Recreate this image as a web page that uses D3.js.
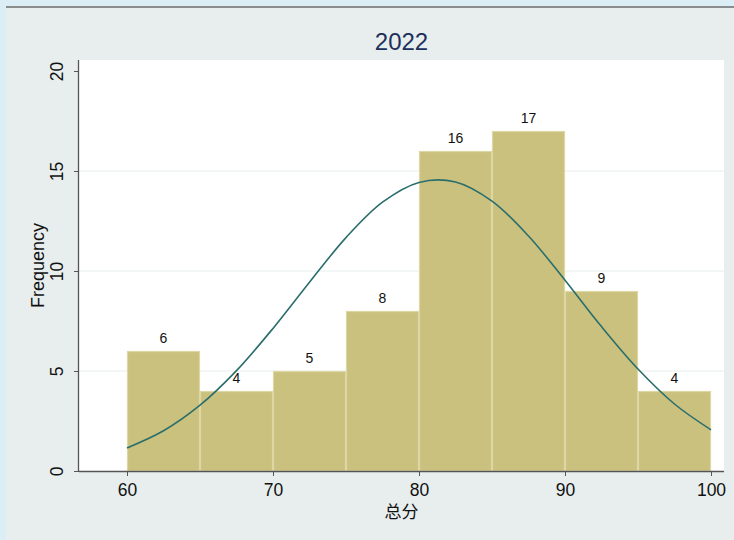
<!DOCTYPE html>
<html><head><meta charset="utf-8">
<script src="https://cdn.jsdelivr.net/npm/d3@7"></script>
<style>html,body{margin:0;padding:0;background:#dbeef6;}svg{display:block;}</style>
</head><body>
<svg id="c" width="734" height="540"></svg>
<script>
const binStarts = [60, 65, 70, 75, 80, 85, 90, 95];
const binWidth = 5;
const counts = [6, 4, 5, 8, 16, 17, 9, 4];
const curveX = [60, 62.5, 65, 67.5, 70, 72.5, 75, 77.5, 80, 82.5, 85, 87.5, 90, 92.5, 95, 97.5, 100];
const curveY = [1.15, 2.01, 3.29, 5.02, 7.13, 9.44, 11.67, 13.44, 14.43, 14.45, 13.49, 11.75, 9.54, 7.22, 5.10, 3.35, 2.06];
const xTicks = [60, 70, 80, 90, 100];
const yTicks = [0, 5, 10, 15, 20];
const gridTicks = [5, 10, 15];
const title = "2022";
const xTitle = "总分";
const yTitle = "Frequency";

const svg = d3.select("#c");
const font = "'Liberation Sans', Arial, Helvetica, sans-serif";

// backgrounds
svg.append("rect").attr("x",0).attr("y",0).attr("width",734).attr("height",540).attr("fill","#dbeef6");
svg.append("rect").attr("x",6).attr("y",6).attr("width",728).attr("height",534).attr("fill","#e8eeee");
svg.append("rect").attr("x",6).attr("y",6).attr("width",728).attr("height",2).attr("fill","#8a8c8e");

const plot = {left:79, right:724, top:60, bottom:471};
svg.append("rect").attr("x",plot.left).attr("y",plot.top)
  .attr("width",plot.right-plot.left).attr("height",plot.bottom-plot.top).attr("fill","#ffffff");

const x = d3.scaleLinear().domain([60,100]).range([127,711]);
const y = d3.scaleLinear().domain([0,20]).range([471,71]);

// grid
svg.append("g").selectAll("line").data(gridTicks).join("line")
  .attr("x1",plot.left).attr("x2",plot.right)
  .attr("y1",d=>y(d)).attr("y2",d=>y(d))
  .attr("stroke","#e6eeee").attr("stroke-width",1);

// bars
svg.append("g").selectAll("rect").data(counts).join("rect")
  .attr("x",(d,i)=>x(binStarts[i])+0.5)
  .attr("y",d=>y(d)+0.5)
  .attr("width",(d,i)=>x(binStarts[i]+binWidth)-x(binStarts[i])-1)
  .attr("height",d=>y(0)-y(d)-0.5)
  .attr("fill","#cbc17e").attr("stroke","#ddd7a6").attr("stroke-width",1.2);

// bar labels
svg.append("g").selectAll("text").data(counts).join("text")
  .attr("x",(d,i)=>x(binStarts[i]+binWidth/2))
  .attr("y",d=>y(d)-8)
  .attr("text-anchor","middle").attr("font-family",font).attr("font-size",14)
  .attr("fill","#111").text(d=>d);

// normal curve
const line = d3.line().x((d,i)=>x(curveX[i])).y(d=>y(d)).curve(d3.curveCatmullRom);
svg.append("path").datum(curveY).attr("d",line)
  .attr("fill","none").attr("stroke","#2a6e6c").attr("stroke-width",1.6);

// axes
const xAxis = d3.axisBottom(x).tickValues(xTicks).tickSize(5).tickSizeOuter(0).tickPadding(5);
const gx = svg.append("g").attr("transform",`translate(0,${plot.bottom})`).call(xAxis);
gx.select(".domain").attr("d",`M${plot.left},0.5H${plot.right}`).attr("stroke","#555").attr("stroke-width",1.3);
gx.selectAll(".tick line").attr("stroke","#555");
gx.selectAll(".tick text").attr("font-family",font).attr("font-size",17.5).attr("fill","#111").attr("dy","0.85em");

const yAxis = d3.axisLeft(y).tickValues(yTicks).tickSize(5).tickSizeOuter(0);
const gy = svg.append("g").attr("transform",`translate(${plot.left},0)`).call(yAxis);
gy.select(".domain").attr("d",`M-0.5,${plot.top}V${plot.bottom}`).attr("stroke","#555").attr("stroke-width",1.3);
gy.selectAll(".tick line").attr("stroke","#555");
gy.selectAll(".tick text").attr("font-family",font).attr("font-size",17.5).attr("fill","#111")
  .attr("text-anchor","middle").attr("x",null).attr("dy",null)
  .attr("transform","translate(-16,0) rotate(-90)");

// titles
svg.append("text").attr("x",(plot.left+plot.right)/2).attr("y",50)
  .attr("text-anchor","middle").attr("font-family",font).attr("font-size",24)
  .attr("fill","#1c305c").text(title);
svg.append("text").attr("x",(plot.left+plot.right)/2).attr("y",518)
  .attr("text-anchor","middle").attr("font-family","'Noto Sans CJK SC', sans-serif").attr("font-size",17)
  .attr("fill","#111").text(xTitle);
svg.append("text").attr("transform",`translate(44,${(plot.top+plot.bottom)/2}) rotate(-90)`)
  .attr("text-anchor","middle").attr("font-family",font).attr("font-size",18)
  .attr("fill","#111").text(yTitle);
</script>
</body></html>
